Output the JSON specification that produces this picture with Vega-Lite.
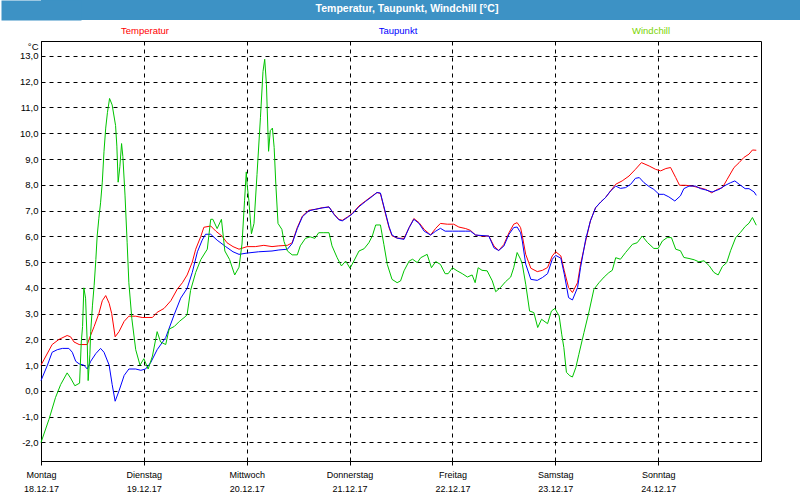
{
"$schema": "https://vega.github.io/schema/vega-lite/v6.json",
"padding": 0,
"background": "white",
"spacing": 0,
"columns": 1,
"bounds": "full",
"config": {"view": {"stroke": null}, "font": "Liberation Sans"},
"datasets": {
"temp": [{"h":0,"v":1.0},{"h":2.6,"v":1.8},{"h":4.2,"v":2.0},{"h":6.1,"v":2.15},{"h":6.9,"v":2.1},{"h":7.7,"v":1.9},{"h":8.9,"v":1.8},{"h":10.8,"v":1.8},{"h":11.2,"v":2.0},{"h":12.4,"v":2.5},{"h":13.5,"v":3.0},{"h":14.3,"v":3.5},{"h":15.1,"v":3.7},{"h":15.9,"v":3.4},{"h":16.5,"v":3.0},{"h":17.3,"v":2.1},{"h":18.2,"v":2.3},{"h":19.4,"v":2.7},{"h":20.5,"v":2.9},{"h":22.1,"v":2.9},{"h":23.6,"v":2.85},{"h":26.0,"v":2.85},{"h":27.1,"v":3.05},{"h":28.7,"v":3.2},{"h":30.3,"v":3.5},{"h":31.8,"v":3.95},{"h":33.0,"v":4.2},{"h":34.1,"v":4.5},{"h":35.3,"v":5.0},{"h":36.1,"v":5.5},{"h":37.3,"v":6.0},{"h":38.0,"v":6.35},{"h":39.6,"v":6.4},{"h":40.8,"v":6.2},{"h":42.3,"v":6.0},{"h":43.4,"v":5.75},{"h":44.8,"v":5.6},{"h":46.2,"v":5.5},{"h":48.1,"v":5.6},{"h":50,"v":5.6},{"h":52,"v":5.65},{"h":53.9,"v":5.6},{"h":55.5,"v":5.63},{"h":57.5,"v":5.65},{"h":58.6,"v":5.75},{"h":59.8,"v":6.34},{"h":61.0,"v":6.79},{"h":62.5,"v":7.01},{"h":64.1,"v":7.05},{"h":65.6,"v":7.11},{"h":67.2,"v":7.14},{"h":68.4,"v":6.86},{"h":69.5,"v":6.66},{"h":70.3,"v":6.62},{"h":71.5,"v":6.75},{"h":72.6,"v":6.88},{"h":74.2,"v":7.18},{"h":75.7,"v":7.37},{"h":77.3,"v":7.57},{"h":78.4,"v":7.7},{"h":79.2,"v":7.66},{"h":80.4,"v":6.86},{"h":81.2,"v":6.34},{"h":81.9,"v":6.02},{"h":83.1,"v":5.93},{"h":84.7,"v":5.92},{"h":85.9,"v":6.34},{"h":87.0,"v":6.69},{"h":88.2,"v":6.53},{"h":89.4,"v":6.27},{"h":90.9,"v":6.05},{"h":92.1,"v":6.31},{"h":93.2,"v":6.5},{"h":94.8,"v":6.47},{"h":96.3,"v":6.47},{"h":97.5,"v":6.36},{"h":99.1,"v":6.3},{"h":100.2,"v":6.23},{"h":101.4,"v":6.05},{"h":102.9,"v":6.01},{"h":104.5,"v":6.01},{"h":105.7,"v":5.62},{"h":106.8,"v":5.45},{"h":108.0,"v":5.68},{"h":109.2,"v":6.14},{"h":110.3,"v":6.47},{"h":111.1,"v":6.53},{"h":111.9,"v":6.34},{"h":112.3,"v":6.02},{"h":113.1,"v":5.3},{"h":114.3,"v":4.76},{"h":115.8,"v":4.63},{"h":117.0,"v":4.68},{"h":118.2,"v":4.79},{"h":119.3,"v":5.24},{"h":120.1,"v":5.4},{"h":121.3,"v":5.24},{"h":122.1,"v":4.66},{"h":123.1,"v":4.01},{"h":124.0,"v":3.82},{"h":125.2,"v":4.2},{"h":125.9,"v":4.92},{"h":127.1,"v":5.82},{"h":128.2,"v":6.6},{"h":129.4,"v":7.11},{"h":130.6,"v":7.33},{"h":131.7,"v":7.5},{"h":132.9,"v":7.76},{"h":134.1,"v":8.02},{"h":135.6,"v":8.15},{"h":137.2,"v":8.34},{"h":138.7,"v":8.6},{"h":140.1,"v":8.86},{"h":141.9,"v":8.73},{"h":143.4,"v":8.6},{"h":144.6,"v":8.54},{"h":145.8,"v":8.63},{"h":146.9,"v":8.67},{"h":148.1,"v":8.28},{"h":149.0,"v":7.98},{"h":150.4,"v":7.98},{"h":152.0,"v":7.95},{"h":153.5,"v":7.89},{"h":155.1,"v":7.82},{"h":156.5,"v":7.69},{"h":157.8,"v":7.82},{"h":159.0,"v":7.89},{"h":160.1,"v":8.21},{"h":161.7,"v":8.67},{"h":162.9,"v":8.86},{"h":164.0,"v":9.06},{"h":165.2,"v":9.19},{"h":166.0,"v":9.35},{"h":166.9,"v":9.34}],
"dew": [{"h":0,"v":0.4},{"h":1.5,"v":1.0},{"h":2.6,"v":1.5},{"h":3.8,"v":1.6},{"h":5.0,"v":1.65},{"h":6.5,"v":1.65},{"h":7.3,"v":1.5},{"h":8.1,"v":1.15},{"h":8.9,"v":1.05},{"h":10.0,"v":1.0},{"h":10.8,"v":0.85},{"h":11.6,"v":1.15},{"h":12.8,"v":1.45},{"h":13.9,"v":1.65},{"h":14.7,"v":1.5},{"h":15.9,"v":1.0},{"h":16.6,"v":0.25},{"h":17.3,"v":-0.4},{"h":18.2,"v":0.0},{"h":19.4,"v":0.6},{"h":20.5,"v":0.85},{"h":22.1,"v":0.85},{"h":23.3,"v":0.8},{"h":24.4,"v":0.85},{"h":25.6,"v":1.1},{"h":27.1,"v":1.6},{"h":29.1,"v":2.07},{"h":31.1,"v":2.97},{"h":32.6,"v":3.6},{"h":34.1,"v":3.98},{"h":35.3,"v":4.6},{"h":36.5,"v":5.4},{"h":37.6,"v":5.85},{"h":38.4,"v":6.08},{"h":39.6,"v":6.08},{"h":41.1,"v":5.85},{"h":43.1,"v":5.6},{"h":44.8,"v":5.4},{"h":46.2,"v":5.3},{"h":48.1,"v":5.35},{"h":50.8,"v":5.4},{"h":53.9,"v":5.43},{"h":55.5,"v":5.47},{"h":57.5,"v":5.5},{"h":58.6,"v":5.72},{"h":59.8,"v":6.3},{"h":61.0,"v":6.76},{"h":62.5,"v":6.99},{"h":64.1,"v":7.05},{"h":65.6,"v":7.1},{"h":67.2,"v":7.14},{"h":68.4,"v":6.84},{"h":69.5,"v":6.64},{"h":70.3,"v":6.6},{"h":71.5,"v":6.73},{"h":72.6,"v":6.86},{"h":74.2,"v":7.15},{"h":75.7,"v":7.35},{"h":77.3,"v":7.55},{"h":78.4,"v":7.7},{"h":79.2,"v":7.68},{"h":80.4,"v":6.9},{"h":81.2,"v":6.38},{"h":81.9,"v":6.05},{"h":83.1,"v":5.93},{"h":84.7,"v":5.88},{"h":85.9,"v":6.34},{"h":87.0,"v":6.66},{"h":88.2,"v":6.5},{"h":89.4,"v":6.2},{"h":90.9,"v":6.05},{"h":92.1,"v":6.2},{"h":93.2,"v":6.31},{"h":94.3,"v":6.2},{"h":96.0,"v":6.2},{"h":97.5,"v":6.2},{"h":99.1,"v":6.2},{"h":100.2,"v":6.2},{"h":101.4,"v":6.05},{"h":102.9,"v":6.03},{"h":104.5,"v":6.01},{"h":105.7,"v":5.55},{"h":106.8,"v":5.45},{"h":108.0,"v":5.62},{"h":109.2,"v":6.08},{"h":110.3,"v":6.34},{"h":111.1,"v":6.36},{"h":111.9,"v":6.14},{"h":112.3,"v":5.82},{"h":113.1,"v":4.92},{"h":114.3,"v":4.33},{"h":115.8,"v":4.29},{"h":117.0,"v":4.4},{"h":118.2,"v":4.55},{"h":119.3,"v":5.11},{"h":120.1,"v":5.26},{"h":121.3,"v":5.15},{"h":122.1,"v":4.53},{"h":123.1,"v":3.62},{"h":124.0,"v":3.53},{"h":125.2,"v":4.01},{"h":125.9,"v":4.79},{"h":127.1,"v":5.89},{"h":128.2,"v":6.6},{"h":129.4,"v":7.11},{"h":130.6,"v":7.33},{"h":131.7,"v":7.5},{"h":132.9,"v":7.76},{"h":134.1,"v":7.95},{"h":135.2,"v":7.86},{"h":136.4,"v":7.89},{"h":137.6,"v":8.02},{"h":138.7,"v":8.25},{"h":139.6,"v":8.28},{"h":140.7,"v":8.08},{"h":141.9,"v":7.93},{"h":143.0,"v":7.82},{"h":144.2,"v":7.63},{"h":145.3,"v":7.63},{"h":146.5,"v":7.53},{"h":147.9,"v":7.37},{"h":149.2,"v":7.57},{"h":150.0,"v":7.85},{"h":151.2,"v":7.95},{"h":152.7,"v":7.95},{"h":153.9,"v":7.85},{"h":155.1,"v":7.8},{"h":156.6,"v":7.72},{"h":158.2,"v":7.82},{"h":159.7,"v":7.98},{"h":160.9,"v":8.08},{"h":161.9,"v":8.15},{"h":162.9,"v":8.02},{"h":164.3,"v":7.85},{"h":165.2,"v":7.85},{"h":166.4,"v":7.72},{"h":166.9,"v":7.59}],
"wind": [{"h":0,"v":-2.0},{"h":1.87,"v":-1.1},{"h":3.4,"v":-0.25},{"h":4.6,"v":0.25},{"h":6.1,"v":0.7},{"h":6.9,"v":0.5},{"h":7.9,"v":0.2},{"h":9.0,"v":0.3},{"h":9.4,"v":1.9},{"h":9.7,"v":2.5},{"h":10.0,"v":4.0},{"h":10.4,"v":3.6},{"h":10.8,"v":1.8},{"h":11.0,"v":0.4},{"h":11.4,"v":1.4},{"h":11.6,"v":2.3},{"h":12.0,"v":3.3},{"h":12.4,"v":4.1},{"h":12.8,"v":5.1},{"h":13.1,"v":6.0},{"h":13.5,"v":6.7},{"h":13.9,"v":7.3},{"h":14.3,"v":8.1},{"h":14.7,"v":9.3},{"h":15.1,"v":10.2},{"h":15.5,"v":10.8},{"h":16.0,"v":11.35},{"h":16.6,"v":11.1},{"h":17.4,"v":10.3},{"h":17.7,"v":9.5},{"h":18.0,"v":8.1},{"h":18.4,"v":8.7},{"h":18.8,"v":9.6},{"h":19.1,"v":9.1},{"h":19.6,"v":7.6},{"h":20.1,"v":5.75},{"h":20.5,"v":4.2},{"h":21.2,"v":2.8},{"h":22.1,"v":1.6},{"h":23.1,"v":1.0},{"h":24.0,"v":1.25},{"h":25.0,"v":0.85},{"h":26.0,"v":1.35},{"h":27.1,"v":2.3},{"h":27.9,"v":1.9},{"h":29.1,"v":1.8},{"h":29.9,"v":2.4},{"h":31.1,"v":2.5},{"h":32.3,"v":2.7},{"h":33.8,"v":2.9},{"h":34.1,"v":2.97},{"h":34.9,"v":3.9},{"h":36.1,"v":4.6},{"h":37.3,"v":5.1},{"h":38.8,"v":5.5},{"h":39.6,"v":6.66},{"h":40.1,"v":6.66},{"h":41.1,"v":6.3},{"h":42.1,"v":6.66},{"h":42.9,"v":5.43},{"h":44.0,"v":5.1},{"h":45.2,"v":4.5},{"h":46.2,"v":4.8},{"h":46.9,"v":5.7},{"h":47.5,"v":7.4},{"h":47.9,"v":8.5},{"h":48.1,"v":8.0},{"h":48.5,"v":7.4},{"h":49.1,"v":6.1},{"h":49.7,"v":6.5},{"h":50.4,"v":8.4},{"h":51.2,"v":10.6},{"h":51.8,"v":12.4},{"h":52.2,"v":12.87},{"h":52.6,"v":11.9},{"h":53.1,"v":9.3},{"h":53.5,"v":10.1},{"h":54.0,"v":10.2},{"h":54.4,"v":9.45},{"h":54.8,"v":8.0},{"h":55.3,"v":6.5},{"h":56.2,"v":6.27},{"h":56.7,"v":5.8},{"h":57.5,"v":5.43},{"h":58.6,"v":5.28},{"h":59.8,"v":5.28},{"h":60.5,"v":5.63},{"h":61.7,"v":5.92},{"h":62.8,"v":5.98},{"h":63.9,"v":5.92},{"h":64.8,"v":6.14},{"h":66.0,"v":6.14},{"h":67.2,"v":6.14},{"h":67.9,"v":5.63},{"h":69.1,"v":5.17},{"h":70.1,"v":4.85},{"h":71.1,"v":5.04},{"h":72.1,"v":4.76},{"h":73.0,"v":5.04},{"h":74.2,"v":5.43},{"h":75.4,"v":5.52},{"h":76.5,"v":5.75},{"h":77.3,"v":6.01},{"h":78.1,"v":6.44},{"h":79.2,"v":6.44},{"h":80.0,"v":5.69},{"h":80.8,"v":4.91},{"h":81.9,"v":4.33},{"h":83.1,"v":4.2},{"h":83.9,"v":4.27},{"h":84.7,"v":4.66},{"h":85.9,"v":5.04},{"h":86.7,"v":5.11},{"h":87.8,"v":4.98},{"h":88.6,"v":5.17},{"h":90.1,"v":5.3},{"h":91.1,"v":4.78},{"h":92.1,"v":5.02},{"h":93.2,"v":4.91},{"h":94.3,"v":4.55},{"h":95.0,"v":4.55},{"h":96.0,"v":4.78},{"h":97.1,"v":4.66},{"h":98.3,"v":4.55},{"h":99.5,"v":4.42},{"h":100.6,"v":4.5},{"h":101.3,"v":4.2},{"h":102.0,"v":4.78},{"h":102.9,"v":4.68},{"h":104.1,"v":4.66},{"h":105.3,"v":4.27},{"h":106.1,"v":3.85},{"h":107.2,"v":4.01},{"h":108.4,"v":4.24},{"h":109.6,"v":4.42},{"h":110.3,"v":4.78},{"h":111.1,"v":5.37},{"h":111.9,"v":5.11},{"h":112.3,"v":4.92},{"h":113.1,"v":4.14},{"h":114.0,"v":3.1},{"h":115.0,"v":3.04},{"h":115.9,"v":2.46},{"h":116.8,"v":2.78},{"h":118.2,"v":2.61},{"h":119.1,"v":3.1},{"h":119.9,"v":3.2},{"h":120.9,"v":2.91},{"h":121.5,"v":2.2},{"h":122.0,"v":1.68},{"h":122.6,"v":0.72},{"h":123.4,"v":0.59},{"h":124.0,"v":0.54},{"h":124.8,"v":0.91},{"h":125.5,"v":1.42},{"h":126.7,"v":2.27},{"h":127.9,"v":3.1},{"h":129.0,"v":3.94},{"h":130.2,"v":4.2},{"h":131.4,"v":4.42},{"h":132.5,"v":4.59},{"h":133.3,"v":4.68},{"h":134.1,"v":5.17},{"h":135.2,"v":5.11},{"h":136.4,"v":5.37},{"h":138.0,"v":5.69},{"h":139.1,"v":5.75},{"h":140.3,"v":6.01},{"h":141.5,"v":5.76},{"h":143.0,"v":5.53},{"h":144.0,"v":5.53},{"h":145.0,"v":5.82},{"h":146.1,"v":5.95},{"h":147.1,"v":5.95},{"h":148.1,"v":5.5},{"h":149.2,"v":5.44},{"h":150.0,"v":5.18},{"h":151.2,"v":5.14},{"h":152.4,"v":5.09},{"h":153.5,"v":5.01},{"h":154.7,"v":5.05},{"h":155.9,"v":4.86},{"h":157.0,"v":4.6},{"h":158.0,"v":4.5},{"h":159.0,"v":4.83},{"h":160.0,"v":4.98},{"h":160.9,"v":5.44},{"h":162.1,"v":5.95},{"h":163.2,"v":6.15},{"h":164.3,"v":6.38},{"h":165.2,"v":6.51},{"h":166.0,"v":6.73},{"h":166.9,"v":6.43}]
},
"concat": [
{
"width": 760, "height": 20,
"view": {"fill": "#3d92c5", "stroke": null},
"data": {"values": [{"t": "Temperatur, Taupunkt, Windchill [°C]"}]},
"mark": {"type": "text", "color": "white", "fontWeight": "bold", "fontSize": 10.5, "baseline": "middle", "dy": -1, "dx": -14},
"encoding": {
"y": {"datum": 0.5, "type": "quantitative", "scale": {"domain": [0, 1], "nice": false}, "axis": {"title": null, "values": [], "labels": false, "ticks": false, "grid": false, "domain": true, "domainColor": "#3d92c5", "domainWidth": 80, "domainCap": "butt", "minExtent": 40, "maxExtent": 40}},
"text": {"field": "t"}
}
},
{
"width": 760, "height": 20,
"data": {"values": [{"n": "Temperatur"}, {"n": "Taupunkt"}, {"n": "Windchill"}]},
"mark": {"type": "text", "fontSize": 9.5, "baseline": "middle", "dy": 1},
"encoding": {
"x": {"field": "n", "type": "nominal", "sort": null, "scale": {"type": "point", "range": [104, 610], "padding": 0}, "axis": null},
"color": {"field": "n", "type": "nominal", "scale": {"domain": ["Temperatur", "Taupunkt", "Windchill"], "range": ["#ff0000", "#0000ff", "#7ad400"]}, "legend": null},
"text": {"field": "n"}
}
},
{
"width": 720, "height": 420,
"view": {"stroke": "black", "strokeWidth": 1, "fill": "white"},
"encoding": {
"x": {"field": "h", "type": "quantitative", "scale": {"domain": [0, 168], "nice": false},
"axis": {"values": [0, 24, 48, 72, 96, 120, 144], "title": null, "grid": true, "gridColor": "black", "gridDash": [4, 4], "gridOpacity": 1, "domainColor": "black", "tickColor": "black", "tickSize": 4, "labelFontSize": 9, "labelColor": "black", "labelPadding": 5, "labelLineHeight": 14, "labelFlush": false, "labelOverlap": false,
"labelExpr": "[['Montag','18.12.17'],['Dienstag','19.12.17'],['Mittwoch','20.12.17'],['Donnerstag','21.12.17'],['Freitag','22.12.17'],['Samstag','23.12.17'],['Sonntag','24.12.17']][round(datum.value/24)]"}},
"y": {"field": "v", "type": "quantitative", "scale": {"domain": [-2.72, 13.58], "nice": false, "zero": false},
"axis": {"values": [-2, -1, 0, 1, 2, 3, 4, 5, 6, 7, 8, 9, 10, 11, 12, 13], "title": "°C", "titleAngle": 0, "titleAlign": "right", "titleBaseline": "middle", "titleX": -3, "titleY": 5, "titleFontWeight": "normal", "titleFontSize": 9.5, "titleColor": "black", "grid": true, "gridColor": "black", "gridDash": [4, 4], "gridOpacity": 1, "ticks": false, "labelPadding": 3, "minExtent": 40, "maxExtent": 40, "domainColor": "black", "labelFontSize": 9.5, "labelColor": "black",
"labelExpr": "replace(replace(format(datum.value, '.1f'), '.', ','), '−', '-')"}}
},
"layer": [
{"data": {"name": "temp"}, "mark": {"type": "line", "color": "#ff0000", "strokeWidth": 1}},
{"data": {"name": "dew"}, "mark": {"type": "line", "color": "#0000ff", "strokeWidth": 1}},
{"data": {"name": "wind"}, "mark": {"type": "line", "color": "#00c400", "strokeWidth": 1}}
]
}
]
}
